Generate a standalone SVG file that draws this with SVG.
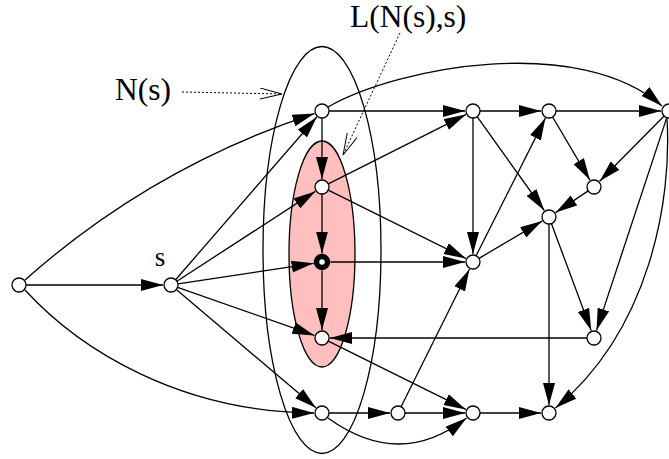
<svg xmlns="http://www.w3.org/2000/svg" width="669" height="459" viewBox="0 0 669 459">
<style>
.edge{fill:none;stroke:#000;stroke-width:1.3;marker-end:url(#ah)}
.node{fill:#fff;stroke:#000;stroke-width:1.3}
.bold{fill:#fff;stroke:#000;stroke-width:5.5}
.lbl{font-family:"Liberation Serif","Times New Roman",serif;fill:#000}
.dot{fill:none;stroke:#000;stroke-width:1;stroke-dasharray:2,2;marker-end:url(#oh)}
</style>
<defs>
<marker id="ah" markerUnits="userSpaceOnUse" markerWidth="24" markerHeight="14" refX="22" refY="6" orient="auto">
<path d="M0,0 L22,6 L0,12 z" fill="#000"/>
</marker>
<marker id="oh" markerUnits="userSpaceOnUse" markerWidth="24" markerHeight="14" refX="22" refY="5.5" orient="auto">
<path d="M0,0 L22,5.5 L0,11" fill="none" stroke="#000" stroke-width="1"/>
</marker>
</defs>
<rect width="669" height="459" fill="#fff"/>
<g id="region-Ns">
<ellipse cx="322" cy="250" rx="59" ry="203.5" fill="none" stroke="#000" stroke-width="1.3"/>
</g>
<g id="region-L">
<ellipse cx="322" cy="254" rx="33" ry="113" fill="#ffbfbf" stroke="#000" stroke-width="1.3"/>
</g>
<g id="connectors">
<path class="edge" d="M26,285 L163,285"/>
<path class="edge" d="M175.6,279.7 L316.8,117"/>
<path class="edge" d="M176.9,281.2 L315.3,191.4"/>
<path class="edge" d="M177.9,283.9 L313.6,263.3"/>
<path class="edge" d="M177.6,287.3 L314.4,335.4"/>
<path class="edge" d="M176.3,289.5 L315.9,407.8"/>
<path class="edge" d="M322,118 L322,179"/>
<path class="edge" d="M322,194 L322,253.5"/>
<path class="edge" d="M322,270.5 L322,330"/>
<path class="edge" d="M329,111 L465,111"/>
<path class="edge" d="M328.3,183.9 L465.9,114.6"/>
<path class="edge" d="M328.3,190.1 L465.8,258.4"/>
<path class="edge" d="M330.5,262 L465,262"/>
<path class="edge" d="M328.3,341.1 L465.8,409.4"/>
<path class="edge" d="M587,338 L330,338"/>
<path class="edge" d="M329,413 L390,413"/>
<path class="edge" d="M405,413 L465,413"/>
<path class="edge" d="M480,413 L541,413"/>
<path class="edge" d="M401.1,406.7 L469.4,269.2"/>
<path class="edge" d="M480,111 L541,111"/>
<path class="edge" d="M556,111 L661,111"/>
<path class="edge" d="M473,118 L473,254"/>
<path class="edge" d="M477.1,116.7 L544.3,210.5"/>
<path class="edge" d="M476.1,255.7 L545.4,118.1"/>
<path class="edge" d="M479,258.4 L542.1,221.1"/>
<path class="edge" d="M552.6,117 L589.9,180.1"/>
<path class="edge" d="M664.1,116 L599.6,181.3"/>
<path class="edge" d="M588.2,190.9 L555.7,212.6"/>
<path class="edge" d="M549,224 L549,405"/>
<path class="edge" d="M551.4,223.6 L591.2,330.5"/>
<path class="edge" d="M666.8,117.6 L596.5,330.4"/>
<path class="edge" d="M25,280 Q152,167 314.4,113.6"/>
<path class="edge" d="M25,290 C80,350 180,412 314,413"/>
<path class="edge" d="M328,107 C400,66 580,34 662,106"/>
<path class="edge" d="M667,119 C672,200 650,330 555.5,408"/>
<path class="edge" d="M328,418 Q400,470 466.5,418"/>
<path class="dot" d="M182,92 L282,94"/>
<path class="dot" d="M400,33 L343,155"/>
</g>
<g id="n0"><circle class="node" cx="19" cy="285" r="7"/></g>
<g id="s"><circle class="node" cx="171" cy="285" r="7"/><text class="lbl" x="160" y="266" font-size="27" text-anchor="middle">s</text></g>
<g id="a"><circle class="node" cx="322" cy="111" r="7"/></g>
<g id="b"><circle class="node" cx="322" cy="187" r="7"/></g>
<g id="c"><circle class="bold" cx="322" cy="262" r="5.5"/></g>
<g id="d"><circle class="node" cx="322" cy="338" r="7"/></g>
<g id="e"><circle class="node" cx="322" cy="413" r="7"/></g>
<g id="f"><circle class="node" cx="473" cy="111" r="7"/></g>
<g id="g"><circle class="node" cx="549" cy="111" r="7"/></g>
<g id="h"><circle class="node" cx="669" cy="111" r="7"/></g>
<g id="i"><circle class="node" cx="594" cy="187" r="7"/></g>
<g id="j"><circle class="node" cx="549" cy="217" r="7"/></g>
<g id="k"><circle class="node" cx="473" cy="262" r="7"/></g>
<g id="l"><circle class="node" cx="594" cy="338" r="7"/></g>
<g id="m"><circle class="node" cx="398" cy="413" r="7"/></g>
<g id="n"><circle class="node" cx="473" cy="413" r="7"/></g>
<g id="o"><circle class="node" cx="549" cy="413" r="7"/></g>
<g id="label-Ns"><text class="lbl" x="115" y="100" font-size="31.5">N(s)</text></g>
<g id="label-L"><text class="lbl" x="350" y="27" font-size="31.5">L(N(s),s)</text></g>
</svg>
